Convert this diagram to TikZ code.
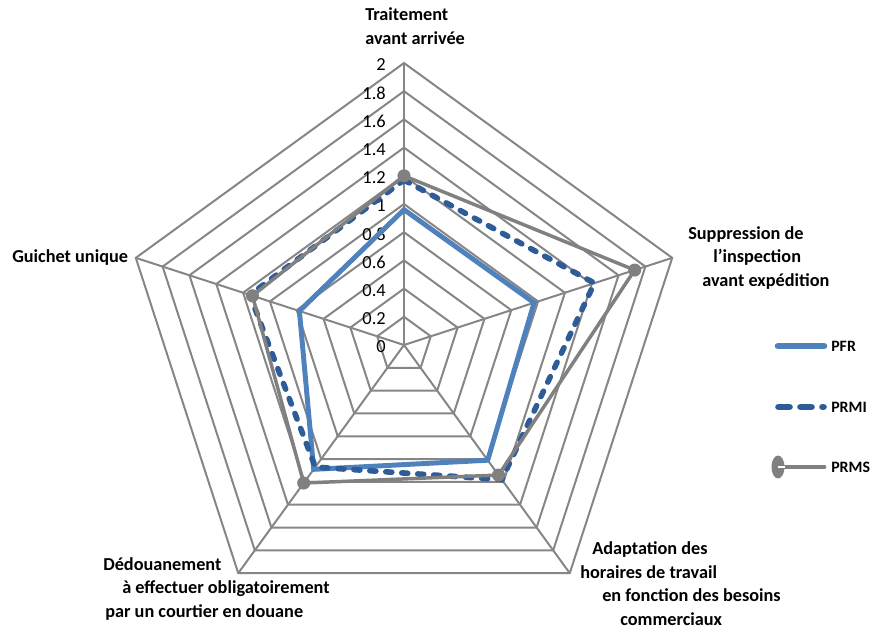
\documentclass[tikz,border=0pt]{standalone}
\usepackage{fontspec}
\setmainfont{Carlito}
\usetikzlibrary{positioning}
\definecolor{gridgray}{RGB}{134,134,134}
\definecolor{pfrblue}{RGB}{79,129,189}
\definecolor{prmiblue}{RGB}{46,92,152}
\definecolor{prmsgray}{RGB}{128,128,128}
\tikzset{
  axislabel/.style={font=\bfseries\fontsize{13.7}{17.6}\selectfont, align=left, anchor=base west, inner sep=0pt},
  ticklabel/.style={font=\fontsize{13.8}{15}\selectfont, anchor=east, inner sep=0pt},
  legendtext/.style={font=\bfseries\fontsize{11.9}{14}\selectfont, anchor=west, inner sep=0pt},
  gridline/.style={draw=gridgray, line width=1.5pt},
  pfr/.style={draw=pfrblue, line width=3.7pt},
  prmi/.style={draw=prmiblue, line width=4.2pt, dash pattern=on 4.5pt off 7.5pt, line cap=round},
  prms/.style={draw=prmsgray, line width=2.6pt},
  prmsmark/.style={circle, fill=prmsgray, minimum size=9.8pt, inner sep=0pt},
}
\def\rstep{141}

\begin{document}
\begin{tikzpicture}[x=0.75pt, y=0.75pt]
\useasboundingbox (0,0) rectangle (870,-629);

% radar grid and axes
\begin{scope}[shift={(404,-345)}]
  \foreach \k in {1,...,10}
    \draw[gridline] (90:{\k*28.2}) -- (18:{\k*28.2}) -- (-54:{\k*28.2})
      -- (-126:{\k*28.2}) -- (162:{\k*28.2}) -- cycle;
  \foreach \a in {90,18,-54,-126,162}
    \draw[gridline] (0,0) -- (\a:282);
  \foreach \k/\t in {0/0,1/0.2,2/0.4,3/0.6,4/0.8,5/1,6/1.2,7/1.4,8/1.6,9/1.8,10/2}
    \node[ticklabel] (tick\k) at (-18,{\k*28.2-2}) {\t};

  % series
  \draw[pfr] (90:{\rstep*0.96}) -- (18:{\rstep*0.97}) -- (-54:{\rstep*1.01})
    -- (-126:{\rstep*1.09}) -- (162:{\rstep*0.78}) -- cycle;
  \draw[prmi] (90:{\rstep*1.17}) -- (18:{\rstep*1.42}) -- (-54:{\rstep*1.18})
    -- (-126:{\rstep*1.07}) -- (162:{\rstep*1.15}) -- cycle;
  \draw[prms] (90:{\rstep*1.2}) -- (18:{\rstep*1.72}) -- (-54:{\rstep*1.14})
    -- (-126:{\rstep*1.21}) -- (162:{\rstep*1.13}) -- cycle;
  \node[prmsmark] (ms1) at (90:{\rstep*1.2}) {};
  \node[prmsmark] (ms2) at (18:{\rstep*1.72}) {};
  \node[prmsmark] (ms3) at (-54:{\rstep*1.14}) {};
  \node[prmsmark] (ms4) at (-126:{\rstep*1.21}) {};
  \node[prmsmark] (ms5) at (162:{\rstep*1.13}) {};
\end{scope}

% axis labels (base = last line)
\node[axislabel] (traitement) at (365,-44) {Traitement\\avant arrivée};
\node[axislabel] (suppression) at (688,-286)
  {Suppression de\\\hspace*{18.75pt}l’inspection\\\hspace*{10.5pt}avant expédition};
\node[axislabel] (guichet) at (12,-262) {Guichet unique};
\node[axislabel] (dedouanement) at (103,-617)
  {Dédouanement\\\hspace*{14.25pt}à effectuer obligatoirement\\\hspace*{1.5pt}par un courtier en douane};
\node[axislabel] (adaptation) at (580,-625)
  {\hspace*{9pt}Adaptation des\\horaires de travail\\\hspace*{16.5pt}en fonction des besoins\\\hspace*{30pt}commerciaux};

% legend
\coordinate (pfrA) at (778,-346);
\coordinate (pfrB) at (824,-346);
\draw[draw=pfrblue, line width=5pt, line cap=round] (pfrA) -- (pfrB);
\node[legendtext] (pfrtext) at (831,-346) {PFR};

\coordinate (prmiA) at (778.5,-407);
\coordinate (prmiB) at (823.5,-407);
\draw[draw=prmiblue, line width=5pt, line cap=round, dash pattern=on 8.25pt off 8.25pt] (prmiA) -- (prmiB);
\node[legendtext] (prmitext) at (831,-407) {PRMI};

\coordinate (prmsA) at (778,-467);
\coordinate (prmsB) at (824,-467);
\draw[draw=prmsgray, line width=3.6pt, line cap=round] (prmsA) -- (prmsB);
\fill[prmsgray] (prmsA) ellipse (4.9pt and 8.6pt);
\draw[white, line width=1.5pt] (prmsA) -- ++(7,0);
\node[legendtext] (prmstext) at (831,-467) {PRMS};
\end{tikzpicture}
\end{document}
